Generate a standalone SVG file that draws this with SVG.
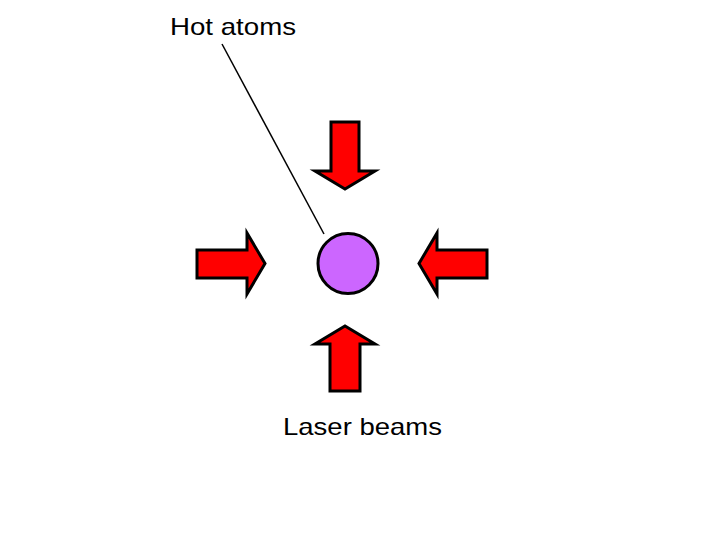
<svg xmlns="http://www.w3.org/2000/svg" width="720" height="540" viewBox="0 0 720 540">
<style>
.arrow{fill:#ff0000;stroke:#000;stroke-width:3;stroke-linejoin:miter}
.lbl{font-family:"Liberation Sans",Arial,sans-serif;font-size:24px;fill:#000}
</style>
<rect width="720" height="540" fill="#fff"/>
<g id="connectors">
<line x1="222" y1="44" x2="324" y2="234" stroke="#000" stroke-width="1.5"/>
</g>
<g id="atoms">
<circle cx="348" cy="263.5" r="30" fill="#cc66ff" stroke="#000" stroke-width="3"/>
</g>
<g id="arrow-top">
<polygon class="arrow" points="331,122 359,122 359,171 375,171 345,189 315,171 331,171"/>
</g>
<g id="arrow-bottom">
<polygon class="arrow" points="330,391 360,391 360,344 375,344 345,326 315,344 330,344"/>
</g>
<g id="arrow-left">
<polygon class="arrow" points="197,250 247,250 247,233 265,263.5 247,294 247,278 197,278"/>
</g>
<g id="arrow-right">
<polygon class="arrow" points="487,250 437,250 437,233 419,263.5 437,294 437,278 487,278"/>
</g>
<g id="label-hot">
<text class="lbl" x="170" y="35" textLength="126" lengthAdjust="spacingAndGlyphs">Hot atoms</text>
</g>
<g id="label-laser">
<text class="lbl" x="283" y="435" textLength="159" lengthAdjust="spacingAndGlyphs">Laser beams</text>
</g>
</svg>
